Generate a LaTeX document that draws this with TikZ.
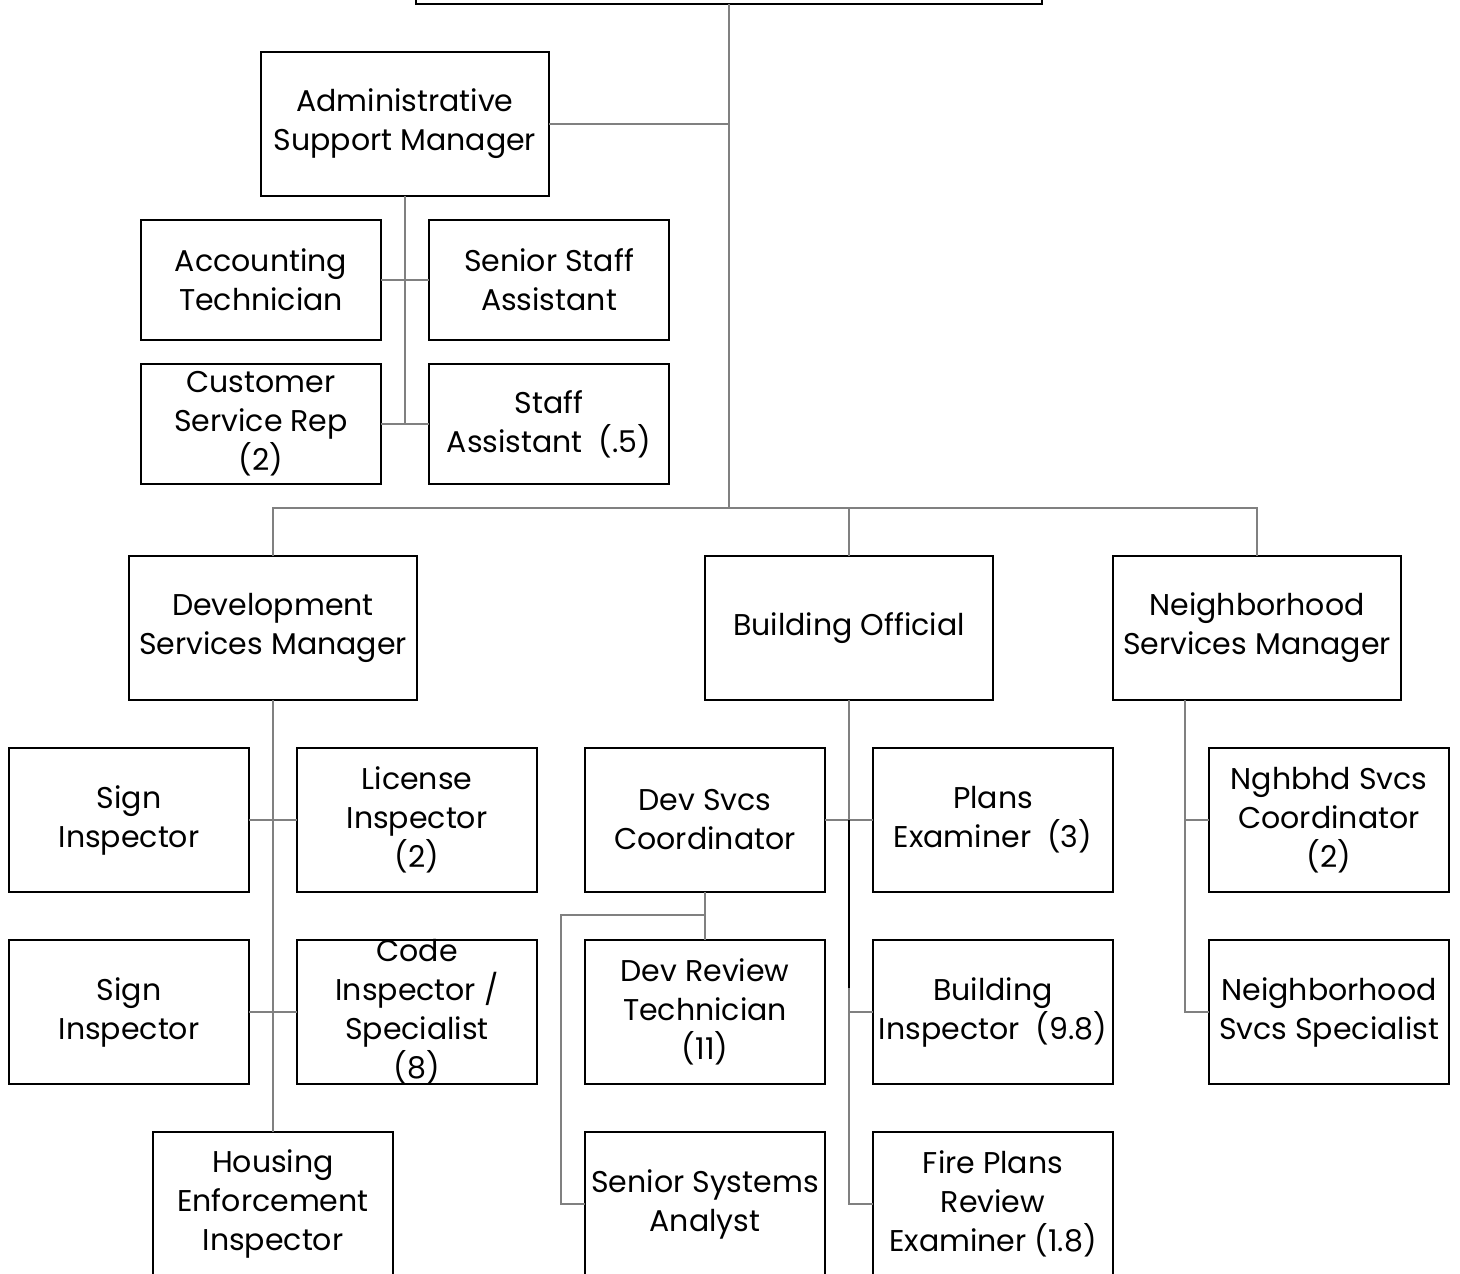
\documentclass[tikz,border=0pt]{standalone}
\usepackage{fontspec}
\setmainfont{Poppins}
\begin{document}
\begin{tikzpicture}[x=1pt,y=-1pt,inner sep=0pt,outer sep=0pt,
boxfont/.style={font=\fontsize{30}{39}\selectfont,align=center},
orgbox/.style={draw=black,line width=2pt,rectangle,boxfont,minimum width=240pt,minimum height=144pt},
mgrbox/.style={orgbox,minimum width=288pt},
smallbox/.style={orgbox,minimum height=120pt},
conn/.style={draw=black!50,line width=1.6pt}]
\path[fill=white,use as bounding box] (0,0) rectangle (1460,1274);

% director and managers
\node[orgbox,minimum width=626pt] (top) at (729,-68) {};
\node[mgrbox] (admin) at (405,124) {Administrative\\Support Manager};
\node[mgrbox] (dsm) at (273,628) {Development\\Services Manager};
\node[mgrbox] (bo) at (849,628) {Building Official};
\node[mgrbox] (nsm) at (1257,628) {Neighborhood\\Services Manager};

% administrative support
\node[smallbox] (acct) at (261,280) {Accounting\\Technician};
\node[smallbox] (ssa) at (549,280) {Senior Staff\\Assistant};
\node[smallbox] (csr) at (261,424) {Customer\\Service Rep\\(2)};
\node[smallbox] (sa) at (549,424) {Staff\\Assistant\ \ (.5)};

% development services
\node[orgbox] (sign1) at (129,820) {Sign\\Inspector};
\node[orgbox] (lic) at (417,820) {License\\Inspector\\(2)};
\node[orgbox] (sign2) at (129,1012) {Sign\\Inspector};
\node[orgbox] (code) at (417,1012) {};
\node[boxfont] (codetxt) at (code.center) {Code\\Inspector /\\Specialist\\(8)};
\node[orgbox] (hous) at (273,1204) {Housing\\Enforcement\\Inspector};

% building
\node[orgbox] (dsc) at (705,820) {Dev Svcs\\Coordinator};
\node[orgbox] (pe) at (993,820) {Plans\\Examiner\ \ (3)};
\node[orgbox] (drt) at (705,1012) {Dev Review\\Technician\\(11)};
\node[orgbox] (bi) at (993,1012) {Building\\Inspector\ \ (9.8)};
\node[orgbox] (ssan) at (705,1204) {Senior Systems\\Analyst};
\node[orgbox] (fpr) at (993,1204) {Fire Plans\\Review\\Examiner (1.8)};

% neighborhood
\node[orgbox] (nsc) at (1329,820) {Nghbhd Svcs\\Coordinator\\(2)};
\node[orgbox] (nss) at (1329,1012) {Neighborhood\\Svcs Specialist};

% connectors
\coordinate (bus) at (729,508);
\coordinate (admj) at (405,424);
\coordinate (dscj) at (561,915);
\coordinate (nbr) at (1185,700);

\draw[conn] (top.south) -- (bus);
\draw[conn] (admin.east) -- (admin.east -| bus);
\draw[conn] (dsm.north) |- (bus) -| (nsm.north);
\draw[conn] (bo.north) -- (bo.north |- bus);

\draw[conn] (admin.south) -- (admj);
\draw[conn] (acct.east) -- (ssa.west);
\draw[conn] (csr.east) -- (sa.west);

\draw[conn] (dsm.south) -- (hous.north);
\draw[conn] (sign1.east) -- (lic.west);
\draw[conn] (sign2.east) -- (code.west);

\draw[conn] (bo.south) |- (fpr.west);
\draw[conn] (dsc.east) -- (pe.west);
\draw[conn] (bo.south |- bi.west) -- (bi.west);
\draw[black,line width=2pt] (dsc.east -| bo.south) -- ++(0,168);
\draw[conn] (dsc.south) -- (drt.north);
\draw[conn] (dsc.south |- dscj) -- (dscj) |- (ssan.west);

\draw[conn] (nbr) |- (nss.west);
\draw[conn] (nbr |- nsc.west) -- (nsc.west);
\end{tikzpicture}
\end{document}
